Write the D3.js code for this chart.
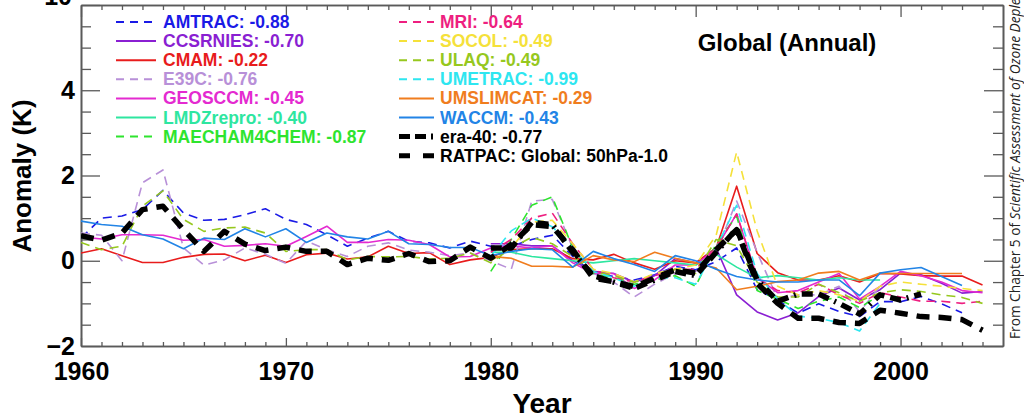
<!DOCTYPE html>
<html><head><meta charset="utf-8">
<script src="https://cdn.jsdelivr.net/npm/d3@7"></script>
<style>body{margin:0;background:#fff;}svg{display:block;}</style>
</head><body><svg id="c" width="1024" height="420"></svg>
<script>
// ---------------- DATA ----------------
const years = d3.range(1960, 2005); // 1960..2004
const _ = null;
const pre80 = Array(20).fill(null);
const AMTRAC = [0.53,1.0,1.05,1.2,1.65,1.12,0.95,0.97,1.08,1.22,
  0.97,0.85,0.61,0.34,0.53,0.69,0.46,0.42,0.30,0.46,
  0.34,0.34,0.5,0.6,0.1,-0.29,-0.37,-0.45,-0.33,-0.13,
  -0.21,-0.02,0.3,-0.68,-0.92,-1.23,-1.01,-1.19,-1.31,-0.96,
  -0.96,-0.84,-1.01,-1.22,_];
const CCSRNIES = pre80.concat([0.4,0.4,0.35,0.35,0.0,-0.25,-0.3,-0.5,-0.35,0.05,
  -0.05,0.3,-0.8,-1.2,-1.39,-1.22,-0.84,-0.64,-0.92,-0.68,
  -0.29,-0.33,-0.53,-0.76,-0.72]);
const CMAM = [0.18,0.28,0.12,-0.04,-0.04,0.08,0.15,0.16,0.0,0.13,
  -0.04,0.14,0.18,0.04,0.09,0.34,0.17,0.19,-0.09,0.02,
  0.08,0.26,0.28,0.28,0.05,0.02,0.15,-0.05,-0.2,0.0,
  -0.05,0.3,1.75,0.17,-0.28,-0.45,-0.45,-0.35,-0.5,-0.3,
  -0.31,-0.35,-0.36,-0.36,-0.57];
const E39C = [0.65,0.6,0.0,1.83,2.13,0.3,-0.1,0.02,0.3,0.15,
  -0.06,0.46,0.26,0.1,0.34,0.42,0.25,0.2,0.12,0.18,
  0.0,-0.2,1.4,1.44,0.3,-0.3,-0.5,-0.85,-0.55,-0.3,
  -0.25,0.2,1.4,0.2,-0.9,-0.8,-0.8,-0.6,-1.2,-0.6,
  _,_,_,_,_];
const GEOSCCM = [0.56,0.51,0.61,0.61,0.6,0.48,0.5,0.34,0.36,0.4,
  0.34,0.57,0.81,0.43,0.43,0.5,0.48,0.38,0.09,0.1,
  0.3,0.35,0.3,0.35,-0.05,-0.3,-0.3,-0.65,-0.45,-0.1,
  -0.1,0.3,1.1,-0.4,-0.75,-0.7,-0.5,-0.3,-0.9,-0.6,
  -0.25,-0.35,-0.5,-0.7,-0.75];
const LMDZrepro = pre80.concat([0.2,0.2,0.1,0.05,0.0,-0.05,0.0,0.05,0.0,-0.05,
  -0.1,0.15,-0.15,-0.4,-0.35,-0.4,-0.45,-0.4,-0.45,-0.45,
  _,_,_,_,_]);
const MAECHAM4CHEM = pre80.concat([-0.25,0.5,1.3,1.5,0.3,-0.3,-0.4,-0.55,-0.45,-0.35,
  -0.6,0.4,1.05,-0.7,-0.9,-1.12,-0.95,-0.85,-1.1,-0.8,
  _,_,_,_,_]);
const MRI = pre80.concat([0.2,0.5,1.0,1.12,0.4,-0.2,-0.4,-0.5,-0.35,-0.2,
  -0.2,0.3,1.1,-0.4,-0.7,-0.75,-0.55,-0.8,-1.0,-0.75,
  -0.85,-0.95,-0.95,-1.0,-0.95]);
const SOCOL = pre80.concat([0.0,0.3,0.9,0.95,0.4,-0.2,-0.3,-0.5,-0.3,-0.2,
  -0.1,0.6,2.55,0.7,-0.6,-0.8,-0.7,-0.8,-0.95,-0.6,
  -0.5,-0.55,-0.6,-0.65,-0.7]);
const ULAQ = [0.43,0.26,0.34,1.28,1.64,0.97,0.69,0.77,0.79,0.65,
  0.22,0.26,0.26,0.02,0.1,0.09,0.1,0.04,0.06,0.18,
  -0.05,0.3,0.55,0.4,0.1,-0.25,-0.35,-0.5,-0.4,-0.2,
  -0.3,0.5,0.35,-0.5,-0.85,-0.85,-0.55,-0.75,-0.95,-0.75,
  -0.68,-0.72,-0.8,-0.86,-1.0];
const UMETRAC = pre80.concat([0.1,0.7,1.0,0.8,0.3,-0.25,-0.4,-0.6,-0.4,-0.4,
  -0.55,0.3,1.3,-0.3,-0.9,-1.3,-1.35,-1.45,-1.65,-1.0,
  _,_,_,_,_]);
const UMSLIMCAT = pre80.concat([0.1,0.06,-0.13,-0.13,-0.15,0.12,0.02,-0.02,0.2,0.06,
  -0.05,-0.17,-0.68,-0.6,-0.49,-0.45,-0.29,-0.25,-0.45,-0.29,
  -0.3,-0.3,-0.3,-0.3,_]);
const WACCM = [0.93,0.85,0.81,0.61,0.51,0.28,0.53,0.5,0.75,0.56,
  0.75,0.43,0.65,0.56,0.51,0.69,0.4,0.38,0.31,0.31,
  0.12,0.22,0.28,0.26,-0.15,0.22,0.05,-0.09,-0.25,0.12,
  0.0,-0.2,-0.37,-0.45,-0.5,-0.5,-0.45,-0.45,-0.82,-0.29,
  -0.21,-0.16,-0.37,-0.58,_];
const ERA40 = pre80.concat([0.3,0.3,0.9,0.85,0.2,-0.35,-0.5,-0.65,-0.45,-0.25,
  -0.35,0.2,0.75,-0.45,-0.95,-0.78,-0.78,-1.0,-1.25,-0.8,
  -0.92,-0.78,_,_,_]);
const RATPAC = [0.59,0.48,0.65,1.2,1.28,0.73,0.22,0.69,0.39,0.24,
  0.32,0.22,0.22,-0.09,0.06,0.01,0.17,-0.02,0.0,0.32,
  0.06,0.38,0.85,0.8,0.26,-0.41,-0.49,-0.61,-0.41,-0.21,
  -0.29,0.26,0.73,-0.53,-1.0,-1.35,-1.35,-1.45,-1.47,-1.16,
  -1.23,-1.31,-1.33,-1.38,-1.63];

const seriesNames = ["AMTRAC","CCSRNIES","CMAM","E39C","GEOSCCM","LMDZrepro","MAECHAM4CHEM",
  "MRI","SOCOL","ULAQ","UMETRAC","UMSLIMCAT","WACCM","era-40","RATPAC: Global: 50hPa-1.0"];
const seriesValues = [AMTRAC,CCSRNIES,CMAM,E39C,GEOSCCM,LMDZrepro,MAECHAM4CHEM,
  MRI,SOCOL,ULAQ,UMETRAC,UMSLIMCAT,WACCM,ERA40,RATPAC];
const trends = [-0.88,-0.70,-0.22,-0.76,-0.45,-0.40,-0.87,-0.64,-0.49,-0.49,-0.99,-0.29,-0.43,-0.77,null];
const xTickLabels = [1960,1970,1980,1990,2000];
const yTickLabels = [-2,0,2,4];
const neighborPanelLabel = ["-10"];
const titleText = "Global (Annual)";
const xTitle = "Year", yTitle = "Anomaly (K)";
const sourceNote = ["From Chapter 5 of ", "Scientific Assessment of Ozone Depletion: 2006"];

// ---------------- STYLES ----------------
const colors = ["#1a1ae6","#8a1fd2","#e81c1c","#b890d8","#e42ad0","#2ee6a0","#2ee42e",
  "#ee1f80","#f5e13a","#96c81e","#2ee6f0","#f07d1e","#2284e6","#000","#000"];
const dashed = [true,false,false,true,false,false,true,true,true,true,true,false,false,true,true];

// ---------------- CHART ----------------
const svg = d3.select("#c");
const FONT = "'Liberation Sans', Arial, Helvetica, sans-serif";
const x = d3.scaleLinear().domain([1960,2005]).range([81,1003]);
const y = d3.scaleLinear().domain([-2,6]).range([346,5]);
const axisCol = "#5a5a5a";

svg.append("defs").append("clipPath").attr("id","clip").append("rect")
  .attr("x",81).attr("y",5).attr("width",922).attr("height",341);

function styleAxis(g){
  g.selectAll("path.domain").attr("stroke",axisCol).attr("stroke-width",1.6);
  g.selectAll(".tick line").attr("stroke",axisCol).attr("stroke-width",1.3);
}
const minorYears = d3.range(1961,2005).filter(v => v % 10 !== 0);
const minorY = d3.range(-2,6.01,0.5).filter(v => v % 2 !== 0);
const majorY = [-2,0,2,4,6];

// bottom
svg.append("g").attr("transform","translate(0,346)")
  .call(d3.axisBottom(x).tickValues(minorYears).tickSize(-4).tickSizeOuter(0).tickFormat(""))
  .call(styleAxis);
const gb = svg.append("g").attr("transform","translate(0,346)")
  .call(d3.axisBottom(x).tickValues(xTickLabels).tickSize(-8).tickSizeOuter(0).tickPadding(16).tickFormat(d3.format("d")))
  .call(styleAxis);
gb.selectAll("text").attr("font-family",FONT).attr("font-weight","bold").attr("font-size",25).attr("fill","#000");
// top
svg.append("g").attr("transform","translate(0,5)")
  .call(d3.axisTop(x).tickValues(minorYears).tickSize(-5).tickSizeOuter(0).tickFormat(""))
  .call(styleAxis);
svg.append("g").attr("transform","translate(0,5)")
  .call(d3.axisTop(x).tickValues(xTickLabels).tickSize(-12).tickSizeOuter(0).tickFormat(""))
  .call(styleAxis);
// left
svg.append("g").attr("transform","translate(81,0)")
  .call(d3.axisLeft(y).tickValues(minorY).tickSize(-10).tickSizeOuter(0).tickFormat(""))
  .call(styleAxis);
const gl = svg.append("g").attr("transform","translate(81,0)")
  .call(d3.axisLeft(y).tickValues(majorY).tickSize(-19).tickSizeOuter(0).tickPadding(6)
     .tickFormat(d => yTickLabels.includes(d) ? d3.format("d")(d) : ""))
  .call(styleAxis);
gl.selectAll("text").attr("font-family",FONT).attr("font-weight","bold").attr("font-size",25).attr("fill","#000");
// right
svg.append("g").attr("transform","translate(1003,0)")
  .call(d3.axisRight(y).tickValues(minorY).tickSize(-10).tickSizeOuter(0).tickFormat(""))
  .call(styleAxis);
svg.append("g").attr("transform","translate(1003,0)")
  .call(d3.axisRight(y).tickValues(majorY).tickSize(-19).tickSizeOuter(0).tickFormat(""))
  .call(styleAxis);

// neighbour panel label peeking in at top
svg.append("text").attr("x",72).attr("y",5).attr("text-anchor","end")
  .attr("font-family",FONT).attr("font-weight","bold").attr("font-size",25).text(neighborPanelLabel[0]);

// lines
const line = d3.line().defined(d => d.v !== null).x(d => x(d.year)).y(d => y(d.v));
const plot = svg.append("g").attr("clip-path","url(#clip)");
seriesNames.forEach((name,i) => {
  const pts = years.map((yr,j) => ({year:yr, v: seriesValues[i][j] === undefined ? null : seriesValues[i][j]}));
  const black = i >= 13;
  let dash = null;
  if (dashed[i]) dash = black ? (i === 13 ? "11,6,11,6,2,6" : "13,9") : "9,6";
  plot.append("path").datum(pts).attr("d", line)
    .attr("fill","none").attr("stroke",colors[i])
    .attr("stroke-width", black ? 5.5 : 1.6)
    .attr("stroke-dasharray", dash)
    .attr("stroke-linejoin","round");
});

// legend
const legendRows = seriesNames.map((n,i) => {
  const col = i < 7 ? 0 : 1;
  const row = i < 7 ? i : i - 7;
  return {name:n, i, col, row};
});
legendRows.forEach(r => {
  const base = 28 + r.row * 19.1;
  const cy = base - 6;
  const x0 = r.col === 0 ? 116 : 399, x1 = r.col === 0 ? 156 : 434;
  const tx = r.col === 0 ? 163 : 440;
  const black = r.i >= 13;
  const g = svg.append("g");
  if (r.i === 13) {
    g.append("line").attr("x1",x0).attr("x2",x0+30).attr("y1",cy).attr("y2",cy)
      .attr("stroke","#000").attr("stroke-width",5).attr("stroke-dasharray","11,5");
    g.append("line").attr("x1",x1-2).attr("x2",x1-2).attr("y1",cy-3).attr("y2",cy+3)
      .attr("stroke","#000").attr("stroke-width",2);
  } else if (r.i === 14) {
    g.append("line").attr("x1",x0).attr("x2",x1).attr("y1",cy).attr("y2",cy)
      .attr("stroke","#000").attr("stroke-width",5).attr("stroke-dasharray","11,13");
  } else {
    g.append("line").attr("x1",x0).attr("x2",x1).attr("y1",cy).attr("y2",cy)
      .attr("stroke",colors[r.i]).attr("stroke-width",2)
      .attr("stroke-dasharray", dashed[r.i] ? "8,6" : null);
  }
  const label = trends[r.i] === null ? r.name : r.name + ": " + d3.format(".2f")(trends[r.i]).replace("−","-");
  g.append("text").attr("x",tx).attr("y",base)
    .attr("font-family",FONT).attr("font-weight","bold").attr("font-size",17.5)
    .attr("fill", black ? "#000" : colors[r.i]).text(label);
});

// title
svg.append("text").attr("x",787).attr("y",51).attr("text-anchor","middle")
  .attr("font-family",FONT).attr("font-weight","bold").attr("font-size",24).text(titleText);
// axis titles
svg.append("text").attr("x",542).attr("y",413).attr("text-anchor","middle")
  .attr("font-family",FONT).attr("font-weight","bold").attr("font-size",28).text(xTitle);
svg.append("text").attr("transform","translate(31,176) rotate(-90)").attr("text-anchor","middle")
  .attr("font-family",FONT).attr("font-weight","bold").attr("font-size",26).text(yTitle);
// source note (rotated)
const note = svg.append("text").attr("transform","translate(1020,339) rotate(-90)")
  .attr("font-family","'Open Sans', sans-serif").attr("font-size",13.7).attr("fill","#222");
note.append("tspan").text(sourceNote[0]);
note.append("tspan").attr("font-style","italic").text(sourceNote[1]);
</script></body></html>
